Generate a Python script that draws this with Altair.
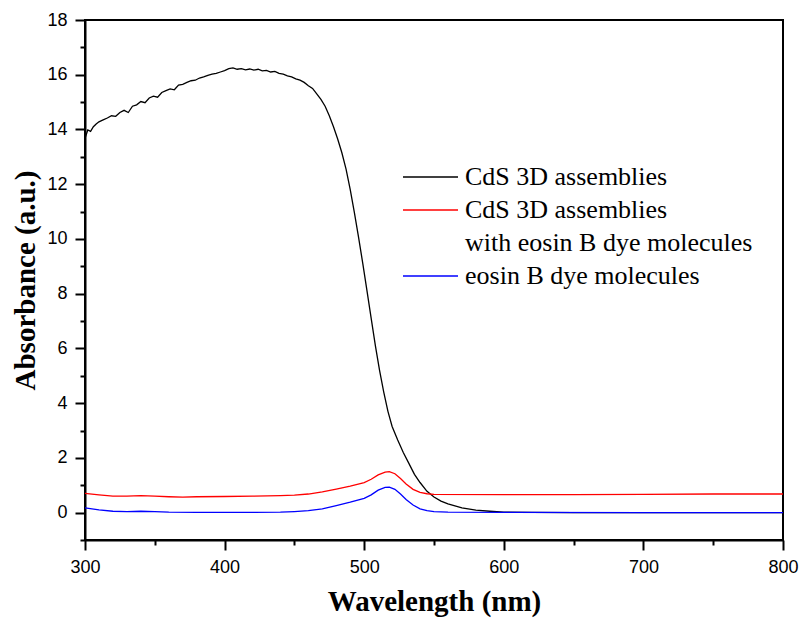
import altair as alt
import pandas as pd

# CdS 3D assemblies (black)
black_wl = [300, 302, 304, 306, 308, 310, 313, 316, 319, 322, 325, 328, 331, 334, 337, 340, 343, 346, 349, 352,
            355, 358, 361, 364, 367, 370, 373, 376, 379, 382, 385, 388, 391, 394, 397, 400, 403, 406, 409, 412,
            415, 418, 421, 424, 427, 430, 433, 436, 439, 442, 445, 448, 451, 454, 457, 460, 463, 466, 469, 472,
            475, 478, 481, 484, 487, 490, 493, 496, 499, 502, 505, 508, 511, 514, 517, 520, 524, 528, 532, 536,
            540, 545, 550, 555, 560, 570, 580, 590, 600, 620, 650, 700, 750, 800]
black_abs = [13.68, 13.98, 13.93, 14.10, 14.20, 14.28, 14.35, 14.42, 14.50, 14.48, 14.62, 14.70, 14.62, 14.85, 14.90,
             15.02, 14.98, 15.15, 15.22, 15.18, 15.35, 15.42, 15.48, 15.45, 15.62, 15.65, 15.72, 15.78, 15.80, 15.88,
             15.92, 15.98, 16.02, 16.05, 16.10, 16.15, 16.22, 16.25, 16.20, 16.22, 16.18, 16.21, 16.17, 16.20, 16.14,
             16.16, 16.10, 16.12, 16.05, 16.02, 15.96, 15.92, 15.85, 15.80, 15.72, 15.60, 15.50, 15.30, 15.10, 14.85,
             14.50, 14.10, 13.65, 13.15, 12.55, 11.80, 10.95, 10.05, 9.10, 8.10, 7.10, 6.10, 5.20, 4.40, 3.70,
             3.15, 2.65, 2.20, 1.80, 1.40, 1.10, 0.78, 0.57, 0.42, 0.32, 0.17, 0.09, 0.05, 0.02, 0.01,
             0.00, 0.00, 0.00, 0.00]

# CdS 3D assemblies with eosin B dye molecules (red)
red_wl = [300, 310, 320, 330, 340, 350, 360, 370, 380, 400, 420, 440, 450, 460, 470, 480, 490, 500, 505, 510,
          515, 518, 522, 526, 530, 535, 540, 545, 550, 600, 650, 700, 750, 800]
red_abs = [0.70, 0.65, 0.60, 0.60, 0.62, 0.60, 0.58, 0.57, 0.58, 0.59, 0.60, 0.62, 0.64, 0.68, 0.76, 0.86, 0.97,
           1.10, 1.22, 1.38, 1.48, 1.50, 1.42, 1.25, 1.05, 0.85, 0.74, 0.69, 0.67, 0.66, 0.66, 0.67, 0.68, 0.68]

# eosin B dye molecules (blue)
blue_wl = [300, 310, 320, 330, 340, 350, 360, 380, 400, 420, 440, 450, 460, 470, 480, 490, 500, 505, 510, 515,
           518, 522, 526, 530, 535, 540, 545, 550, 560, 600, 700, 800]
blue_abs = [0.17, 0.10, 0.05, 0.04, 0.05, 0.04, 0.02, 0.01, 0.01, 0.01, 0.02, 0.04, 0.07, 0.14, 0.26, 0.38,
            0.52, 0.65, 0.82, 0.92, 0.93, 0.85, 0.68, 0.48, 0.28, 0.14, 0.07, 0.04, 0.02, 0.01, 0.00, 0.00]

# legend keys (the third key is the continuation line of the red entry)
series_keys = ["cds", "cds_eosin", "cds_eosin_2", "eosin"]
series_labels = ["CdS 3D assemblies", "CdS 3D assemblies", "with eosin B dye molecules", "eosin B dye molecules"]
series_colors = ["#000000", "#ff0000", "transparent", "#0000ff"]

x_ticks = list(range(300, 801, 50))
y_ticks = list(range(-1, 19))

frames = []
for key, wl, ab in zip(["cds", "cds_eosin", "eosin"], [black_wl, red_wl, blue_wl], [black_abs, red_abs, blue_abs]):
    frames.append(pd.DataFrame({"wl": wl, "abs": ab, "series": key}))
df = pd.concat(frames, ignore_index=True)

label_expr = " : ".join(
    [f"datum.value == '{k}' ? '{l}'" for k, l in zip(series_keys[:-1], series_labels[:-1])]
    + [f"'{series_labels[-1]}'"]
)

x_axis = alt.Axis(
    values=x_ticks,
    tickSize={"condition": {"test": "datum.value % 100 == 0", "value": 10}, "value": 5},
    labelExpr="datum.value % 100 == 0 ? datum.label : ''",
    labelPadding=8,
    labelFlush=False,
    titlePadding=11,
    format="d",
)
y_axis = alt.Axis(
    values=y_ticks,
    tickSize={"condition": {"test": "datum.value % 2 == 0", "value": 10}, "value": 5},
    labelExpr="datum.value % 2 == 0 ? datum.label : ''",
    labelPadding=8,
    labelFlush=False,
    titlePadding=6,
)

chart = alt.Chart(df).mark_line(strokeWidth=1.3).encode(
    x=alt.X("wl:Q", title="Wavelength (nm)",
            scale=alt.Scale(domain=[300, 800], nice=False, zero=False), axis=x_axis),
    y=alt.Y("abs:Q", title="Absorbance (a.u.)",
            scale=alt.Scale(domain=[-1, 18], nice=False, zero=False), axis=y_axis),
    color=alt.Color("series:N",
                    scale=alt.Scale(domain=series_keys, range=series_colors),
                    sort=series_keys,
                    legend=alt.Legend(
                        title=None, orient="none", legendX=317, legendY=144,
                        symbolType="stroke", symbolSize=3025, symbolStrokeWidth=1.5,
                        labelFont="Liberation Serif", labelFontSize=26, labelColor="black",
                        labelOffset=6, rowPadding=7, clipHeight=26, labelLimit=500,
                        labelExpr=label_expr,
                    )),
    order=alt.Order("wl:Q"),
).properties(
    width=698, height=520,
    autosize=alt.AutoSizeParams(type="none"),
    padding={"left": 77, "top": 12, "right": 16, "bottom": 79},
).configure_view(
    stroke="black", strokeWidth=2
).configure_axis(
    grid=False,
    domainColor="black", domainWidth=2,
    tickColor="black", tickWidth=2,
    labelFont="Liberation Sans", labelFontSize=18, labelColor="black",
    titleFont="Liberation Serif", titleFontSize=29, titleFontWeight="bold", titleColor="black",
).configure_legend(
    labelFont="Liberation Serif", labelFontSize=26, labelColor="black",
)

chart.save("out.html", embed_options={"renderer": "svg", "actions": False})
